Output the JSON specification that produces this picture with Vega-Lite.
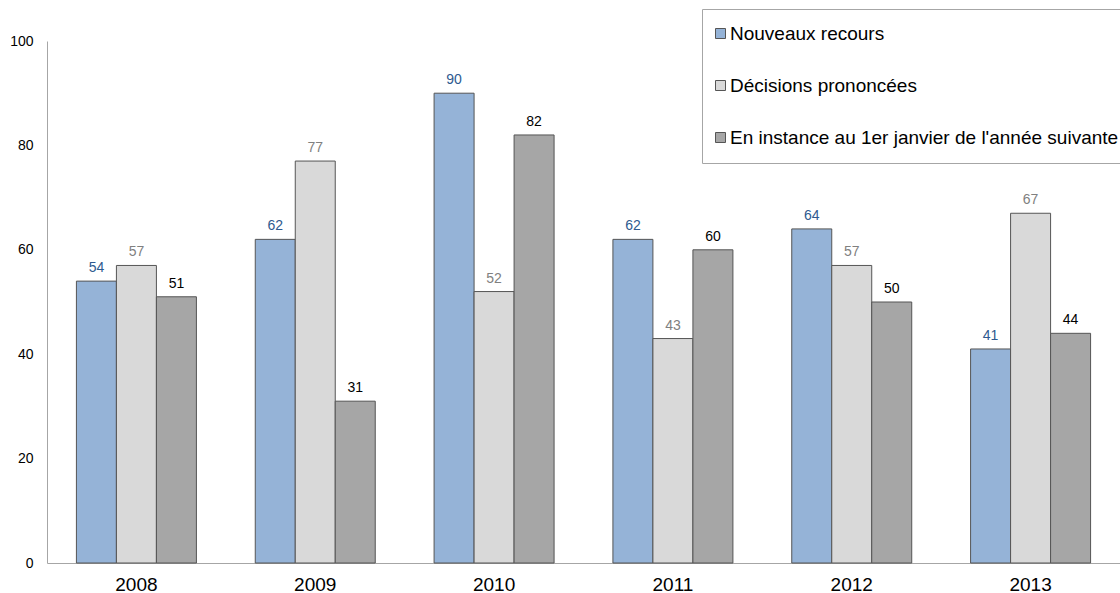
{
  "$schema": "https://vega.github.io/schema/vega-lite/v6.json",
  "autosize": "none",
  "width": 1073,
  "height": 522,
  "padding": {"left": 47, "top": 41, "right": 0, "bottom": 30},
  "background": "white",
  "config": {
    "font": "Liberation Sans",
    "view": {"stroke": null}
  },
  "data": {
    "values": [
      {"annee": "2008", "serie": "Nouveaux recours", "valeur": 54},
      {"annee": "2008", "serie": "Décisions prononcées", "valeur": 57},
      {"annee": "2008", "serie": "En instance au 1er janvier de l'année suivante", "valeur": 51},
      {"annee": "2009", "serie": "Nouveaux recours", "valeur": 62},
      {"annee": "2009", "serie": "Décisions prononcées", "valeur": 77},
      {"annee": "2009", "serie": "En instance au 1er janvier de l'année suivante", "valeur": 31},
      {"annee": "2010", "serie": "Nouveaux recours", "valeur": 90},
      {"annee": "2010", "serie": "Décisions prononcées", "valeur": 52},
      {"annee": "2010", "serie": "En instance au 1er janvier de l'année suivante", "valeur": 82},
      {"annee": "2011", "serie": "Nouveaux recours", "valeur": 62},
      {"annee": "2011", "serie": "Décisions prononcées", "valeur": 43},
      {"annee": "2011", "serie": "En instance au 1er janvier de l'année suivante", "valeur": 60},
      {"annee": "2012", "serie": "Nouveaux recours", "valeur": 64},
      {"annee": "2012", "serie": "Décisions prononcées", "valeur": 57},
      {"annee": "2012", "serie": "En instance au 1er janvier de l'année suivante", "valeur": 50},
      {"annee": "2013", "serie": "Nouveaux recours", "valeur": 41},
      {"annee": "2013", "serie": "Décisions prononcées", "valeur": 67},
      {"annee": "2013", "serie": "En instance au 1er janvier de l'année suivante", "valeur": 44}
    ]
  },
  "encoding": {
    "x": {
      "field": "annee",
      "type": "nominal",
      "scale": {"paddingInner": 0.329, "paddingOuter": 0.1645},
      "axis": {
        "title": null,
        "labelAngle": 0,
        "labelFontSize": 19,
        "labelColor": "#000000",
        "labelPadding": 12,
        "ticks": false,
        "domainColor": "#A6A6A6",
        "domainWidth": 1
      }
    },
    "xOffset": {
      "field": "serie",
      "type": "nominal",
      "sort": ["Nouveaux recours", "Décisions prononcées", "En instance au 1er janvier de l'année suivante"],
      "scale": {"paddingInner": 0, "paddingOuter": 0}
    },
    "y": {
      "field": "valeur",
      "type": "quantitative",
      "scale": {"domain": [0, 100], "nice": false},
      "axis": {
        "title": null,
        "values": [0, 20, 40, 60, 80, 100],
        "grid": false,
        "ticks": false,
        "labelFontSize": 14,
        "labelColor": "#000000",
        "labelPadding": 14,
        "domainColor": "#A6A6A6",
        "domainWidth": 1
      }
    }
  },
  "layer": [
    {
      "mark": {"type": "bar", "stroke": "#555555", "strokeWidth": 1},
      "encoding": {
        "color": {
          "field": "serie",
          "type": "nominal",
          "sort": ["Nouveaux recours", "Décisions prononcées", "En instance au 1er janvier de l'année suivante"],
          "scale": {
            "domain": ["Nouveaux recours", "Décisions prononcées", "En instance au 1er janvier de l'année suivante"],
            "range": ["#95B3D7", "#D9D9D9", "#A6A6A6"]
          },
          "legend": {
            "title": null,
            "orient": "none",
            "legendX": 655,
            "legendY": -32,
            "direction": "vertical",
            "fillColor": "white",
            "strokeColor": "#A6A6A6",
            "padding": 15,
            "symbolType": "square",
            "symbolSize": 100,
            "symbolOffset": -6,
            "symbolStrokeColor": "#555555",
            "symbolStrokeWidth": 1,
            "labelFontSize": 19,
            "labelColor": "#000000",
            "labelOffset": 0,
            "labelLimit": 600,
            "rowPadding": 32
          }
        }
      }
    },
    {
      "mark": {"type": "text", "fontSize": 14, "baseline": "alphabetic", "dy": -9},
      "encoding": {
        "text": {"field": "valeur", "type": "quantitative"},
        "color": {
          "field": "serie",
          "type": "nominal",
          "scale": {
            "domain": ["Nouveaux recours", "Décisions prononcées", "En instance au 1er janvier de l'année suivante"],
            "range": ["#2E5A8F", "#808080", "#000000"]
          },
          "legend": null
        }
      }
    }
  ],
  "resolve": {"scale": {"color": "independent"}}
}
